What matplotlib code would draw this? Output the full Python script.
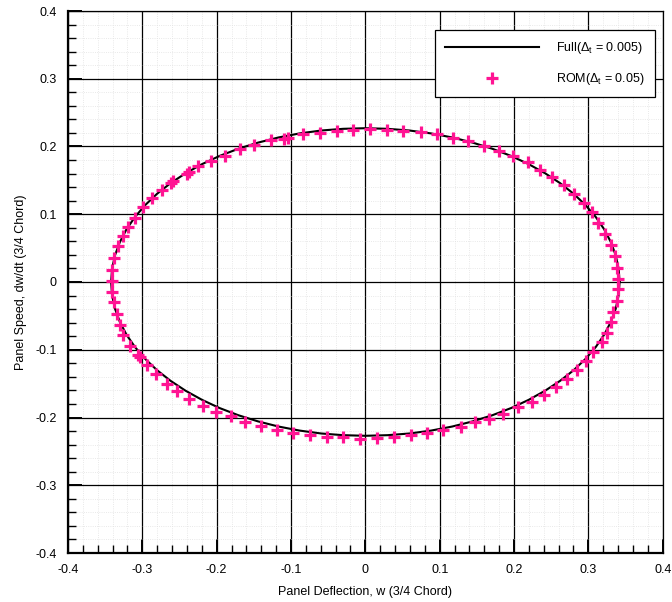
import matplotlib
matplotlib.use("Agg")
import matplotlib.pyplot as plt
from matplotlib.ticker import MultipleLocator, FuncFormatter

plt.rcParams['font.family'] = ['Liberation Sans', 'DejaVu Sans']
plt.rcParams['mathtext.fontset'] = 'custom'
plt.rcParams['mathtext.rm'] = 'Liberation Sans'

# full-order solution, one limit cycle (w, dw/dt)
full_w = [0.342, 0.3407, 0.3368, 0.3303, 0.3214, 0.3100, 0.2962, 0.2802, 0.2620, 0.2418,
          0.2198, 0.1962, 0.1710, 0.1445, 0.1170, 0.0885, 0.0594, 0.0298, 0.0,
          -0.0298, -0.0594, -0.0885, -0.1170, -0.1445, -0.1710, -0.1962, -0.2198, -0.2418,
          -0.2620, -0.2802, -0.2962, -0.3100, -0.3214, -0.3303, -0.3368, -0.3407, -0.342,
          -0.3407, -0.3368, -0.3303, -0.3214, -0.3100, -0.2962, -0.2802, -0.2620, -0.2418,
          -0.2198, -0.1962, -0.1710, -0.1445, -0.1170, -0.0885, -0.0594, -0.0298, 0.0,
          0.0298, 0.0594, 0.0885, 0.1170, 0.1445, 0.1710, 0.1962, 0.2198, 0.2418,
          0.2620, 0.2802, 0.2962, 0.3100, 0.3214, 0.3303, 0.3368, 0.3407, 0.342]
full_dw = [0.0, 0.0198, 0.0394, 0.0588, 0.0776, 0.0959, 0.1135, 0.1302, 0.1459, 0.1605,
           0.1739, 0.1860, 0.1966, 0.2057, 0.2133, 0.2193, 0.2236, 0.2261, 0.227,
           0.2261, 0.2236, 0.2193, 0.2133, 0.2057, 0.1966, 0.1860, 0.1739, 0.1605,
           0.1459, 0.1302, 0.1135, 0.0959, 0.0776, 0.0588, 0.0394, 0.0198, 0.0,
           -0.0198, -0.0394, -0.0588, -0.0776, -0.0959, -0.1135, -0.1302, -0.1459, -0.1605,
           -0.1739, -0.1860, -0.1966, -0.2057, -0.2133, -0.2193, -0.2236, -0.2261, -0.227,
           -0.2261, -0.2236, -0.2193, -0.2133, -0.2057, -0.1966, -0.1860, -0.1739, -0.1605,
           -0.1459, -0.1302, -0.1135, -0.0959, -0.0776, -0.0588, -0.0394, -0.0198, 0.0]

# reduced-order model samples
rom_w = [-0.3413, -0.3413, -0.3382, -0.3324, -0.3257, -0.3190, -0.3100, -0.2987, -0.2875,
         -0.2740, -0.2620, -0.2584, -0.2404, -0.2375, -0.2248, -0.2080, -0.1889, -0.1687,
         -0.1497, -0.1270, -0.1095, -0.1037,
         -0.0835, -0.0610, -0.0386, -0.0163, 0.0062, 0.0287, 0.0510, 0.0744, 0.0959,
         0.1174, 0.1380,
         0.1595, 0.1800, 0.1990, 0.2183, 0.2349, 0.2510, 0.2672, 0.2810, 0.2940, 0.3052,
         0.3133, 0.3223, 0.3300, 0.3358, 0.3389, 0.3402, 0.3405, 0.3385, 0.3335,
         0.3300, 0.3246, 0.3179, 0.3066, 0.2967, 0.2842, 0.2708, 0.2564, 0.2403, 0.2237,
         0.2057, 0.1855, 0.1667, 0.1474, 0.1280,
         0.1040, 0.0825, 0.0610, 0.0385, 0.0160, -0.0073, -0.0297, -0.0520, -0.0745,
         -0.0970, -0.1193,
         -0.1408, -0.1620, -0.1812, -0.2010, -0.2189, -0.2369, -0.2530, -0.2673, -0.2817,
         -0.2942, -0.3032, -0.3063, -0.3167, -0.3257, -0.3300, -0.3346, -0.3382, -0.3405]
rom_dw = [0.0010, 0.0182, 0.0354, 0.0525, 0.0673, 0.0806, 0.0944, 0.1107, 0.1240,
          0.1360, 0.1455, 0.1485, 0.1600, 0.1625, 0.1706, 0.1780, 0.1864, 0.1963,
          0.2027, 0.2090, 0.2110, 0.2125,
          0.2190, 0.2200, 0.2223, 0.2238, 0.2258, 0.2238, 0.2233, 0.2208, 0.2184,
          0.2125, 0.2075,
          0.2012, 0.1938, 0.1864, 0.1771, 0.1658, 0.1550, 0.1436, 0.1303, 0.1166, 0.1027,
          0.0871, 0.0713, 0.0550, 0.0378, 0.0207, 0.0044, -0.0100, -0.0280, -0.0440,
          -0.0596, -0.0753, -0.0891, -0.1039, -0.1172, -0.1294, -0.1432, -0.1550, -0.1663,
          -0.1777, -0.1845, -0.1944, -0.2022, -0.2072, -0.2135,
          -0.2190, -0.2229, -0.2254, -0.2288, -0.2303, -0.2317, -0.2288, -0.2288, -0.2254,
          -0.2229, -0.2190,
          -0.2131, -0.2072, -0.1984, -0.1925, -0.1826, -0.1727, -0.1615, -0.1501, -0.1354,
          -0.1220, -0.1107, -0.1073, -0.0950, -0.0778, -0.0630, -0.0468, -0.0301, -0.0145]

fig = plt.figure(figsize=(6.72, 6.02), dpi=100)
ax = fig.add_axes([68 / 672, 1 - 553 / 602, 594.7 / 672, 542 / 602])

ax.plot(full_w, full_dw, color='black', lw=1.5, zorder=3,
        label=r'Full($\mathregular{\Delta_t}$ = 0.005)')
ax.plot(rom_w, rom_dw, linestyle='none', marker='+', color='#ff1493',
        markersize=8.5, markeredgewidth=2.3, zorder=4,
        label=r'ROM($\mathregular{\Delta_t}$ = 0.05)')

ax.set_xlim(-0.4, 0.4)
ax.set_ylim(-0.4, 0.4)
ax.xaxis.set_major_locator(MultipleLocator(0.1))
ax.yaxis.set_major_locator(MultipleLocator(0.1))
ax.xaxis.set_minor_locator(MultipleLocator(0.02))
ax.yaxis.set_minor_locator(MultipleLocator(0.02))
fmt = FuncFormatter(lambda v, p: '0' if abs(v) < 1e-9 else f'{round(v, 2):g}')
ax.xaxis.set_major_formatter(fmt)
ax.yaxis.set_major_formatter(fmt)

ax.grid(which='major', color='black', lw=0.9, zorder=1)
ax.grid(which='minor', color='#e2e2e2', lw=0.6, linestyle=':', zorder=0)
ax.set_axisbelow(True)

ax.tick_params(which='both', direction='in', top=False, right=False,
               labelsize=9, colors='black')
ax.tick_params(which='major', length=10, width=1.4, pad=8)
ax.tick_params(which='minor', length=6, width=1.0)

for side in ('left', 'bottom'):
    ax.spines[side].set_linewidth(1.6)
for side in ('top', 'right'):
    ax.spines[side].set_linewidth(0.9)

ax.set_xlabel('Panel Deflection, w (3/4 Chord)', fontsize=9, labelpad=7)
ax.set_ylabel('Panel Speed, dw/dt (3/4 Chord)', fontsize=9, labelpad=6)

leg = ax.legend(loc='upper right', bbox_to_anchor=(0.987, 0.965), borderaxespad=0,
                fontsize=9, frameon=True, fancybox=False, framealpha=1,
                edgecolor='black', borderpad=0.8, labelspacing=1.2,
                handlelength=7.5, handletextpad=1.4)
leg.get_frame().set_linewidth(0.9)

fig.savefig('out.png', dpi=100)
